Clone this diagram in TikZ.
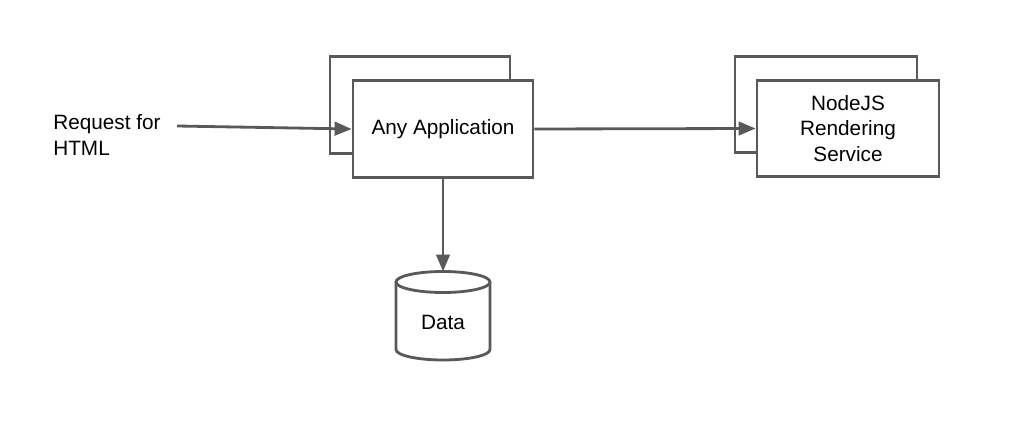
\documentclass[tikz,border=0pt]{standalone}
\usepackage{fontspec}
\setmainfont{Liberation Sans}
\usetikzlibrary{arrows.meta,positioning,calc}
\definecolor{linecolor}{RGB}{89,89,89}

\tikzset{
  box/.style={
    draw=linecolor,
    line width=1.6pt,
    fill=white,
    minimum width=3.6cm,
    minimum height=1.93cm,
    align=center,
    font=\fontsize{11.8}{14.6}\selectfont
  },
  flow/.style={
    draw=linecolor,
    line width=1.6pt,
    -{Triangle[length=3.4mm,width=2.7mm]}
  }
}

\begin{document}
\begin{tikzpicture}

\useasboundingbox (0,0) rectangle (20.56,8.8);

% Request text
\node[
align=left,
anchor=west,
inner sep=0pt,
font=\fontsize{11.8}{14.8}\selectfont
] (request) at (1.06,6.10) {Request for\\HTML};
\coordinate (reqend) at (3.54,6.28);

% Application (stacked)
\node[box] (appback) at (8.40,6.70) {};
\node[box] (app) at (8.86,6.22) {\raisebox{-0.05cm}{Any Application}};

% Rendering service (stacked)
\node[box, minimum width=3.64cm] (renderback) at (16.52,6.71) {};
\node[box, minimum width=3.64cm] (render) at (16.96,6.23)
{NodeJS\\Rendering\\Service};

% Data store
\draw[linecolor, line width=1.6pt, fill=white]
(7.92,3.16) -- (7.92,1.81) arc (180:360:0.94 and 0.21) -- (9.80,3.16);
\draw[linecolor, line width=1.6pt, fill=white]
(8.86,3.16) ellipse (0.94 and 0.21);
\node[font=\fontsize{11.8}{14.6}\selectfont] (data) at (8.86,2.36) {Data};
\coordinate (datatop) at (8.86,3.37);

% Connectors
\draw[flow] (reqend) -- (app.west);
\draw[flow] (app.east) -- (render.west);
\draw[flow] (app.south) -- (datatop);

\end{tikzpicture}
\end{document}
